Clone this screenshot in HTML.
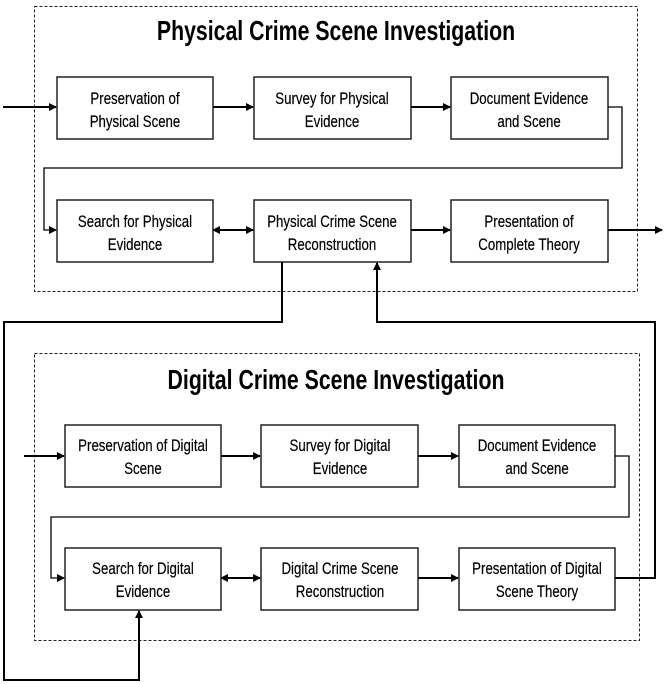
<!DOCTYPE html>
<html><head><meta charset="utf-8"><style>
html,body{margin:0;padding:0;background:#fff;}
svg{display:block;}
text{font-family:"Liberation Sans",Arial,sans-serif;fill:#000;}
</style></head><body>
<svg width="666" height="684" viewBox="0 0 666 684" xmlns="http://www.w3.org/2000/svg">
<defs>
<marker id="a" markerWidth="8" markerHeight="8" refX="7" refY="4" orient="auto" markerUnits="userSpaceOnUse">
<path d="M0,0 L8,4 L0,8 z" fill="#000"/></marker>
<marker id="s" markerWidth="8" markerHeight="8" refX="1" refY="4" orient="auto" markerUnits="userSpaceOnUse">
<path d="M8,0 L0,4 L8,8 z" fill="#000"/></marker>
</defs>
<g fill="none" stroke="#222" stroke-width="1" stroke-dasharray="3,2">
<rect x="34.5" y="6.5" width="603" height="285"/>
<rect x="34.5" y="353.5" width="605" height="287"/>
</g>
<text transform="translate(336,40) scale(0.76,1)" text-anchor="middle" font-size="28" font-weight="bold">Physical Crime Scene Investigation</text>
<text transform="translate(336,389) scale(0.76,1)" text-anchor="middle" font-size="28" font-weight="bold">Digital Crime Scene Investigation</text>
<g fill="#fff" stroke="#222" stroke-width="1.5">
<rect x="57" y="77" width="156" height="62"/>
<rect x="254" y="77" width="157" height="62"/>
<rect x="451" y="77" width="157" height="62"/>
<rect x="57" y="200" width="156" height="62"/>
<rect x="254" y="200" width="157" height="62"/>
<rect x="451" y="200" width="157" height="62"/>
<rect x="65" y="425" width="156" height="62"/>
<rect x="261" y="425" width="157" height="62"/>
<rect x="459" y="425" width="156" height="62"/>
<rect x="65" y="548" width="156" height="62"/>
<rect x="261" y="548" width="157" height="62"/>
<rect x="459" y="548" width="156" height="62"/>
</g>
<g font-size="17" text-anchor="middle" stroke="#000" stroke-width="0.2">
<text transform="translate(135,104) scale(0.78,1)">Preservation of</text>
<text transform="translate(135,127) scale(0.78,1)">Physical Scene</text>
<text transform="translate(332,104) scale(0.78,1)">Survey for Physical</text>
<text transform="translate(332,127) scale(0.78,1)">Evidence</text>
<text transform="translate(529,104) scale(0.78,1)">Document Evidence</text>
<text transform="translate(529,127) scale(0.78,1)">and Scene</text>
<text transform="translate(135,227) scale(0.78,1)">Search for Physical</text>
<text transform="translate(135,250) scale(0.78,1)">Evidence</text>
<text transform="translate(332,227) scale(0.78,1)">Physical Crime Scene</text>
<text transform="translate(332,250) scale(0.78,1)">Reconstruction</text>
<text transform="translate(529,227) scale(0.78,1)">Presentation of</text>
<text transform="translate(529,250) scale(0.78,1)">Complete Theory</text>
<text transform="translate(143,451) scale(0.78,1)">Preservation of Digital</text>
<text transform="translate(143,474) scale(0.78,1)">Scene</text>
<text transform="translate(340,451) scale(0.78,1)">Survey for Digital</text>
<text transform="translate(340,474) scale(0.78,1)">Evidence</text>
<text transform="translate(537,451) scale(0.78,1)">Document Evidence</text>
<text transform="translate(537,474) scale(0.78,1)">and Scene</text>
<text transform="translate(143,574) scale(0.78,1)">Search for Digital</text>
<text transform="translate(143,597) scale(0.78,1)">Evidence</text>
<text transform="translate(340,574) scale(0.78,1)">Digital Crime Scene</text>
<text transform="translate(340,597) scale(0.78,1)">Reconstruction</text>
<text transform="translate(537,574) scale(0.78,1)">Presentation of Digital</text>
<text transform="translate(537,597) scale(0.78,1)">Scene Theory</text>
</g>
<g fill="none" stroke="#000" stroke-width="2">
<line x1="3" y1="107" x2="56" y2="107" marker-end="url(#a)"/>
<line x1="213" y1="107" x2="253" y2="107" marker-end="url(#a)"/>
<line x1="411" y1="107" x2="450" y2="107" marker-end="url(#a)"/>
<line x1="213" y1="230" x2="253" y2="230" marker-start="url(#s)" marker-end="url(#a)"/>
<line x1="411" y1="230" x2="450" y2="230" marker-end="url(#a)"/>
<line x1="608" y1="230" x2="662" y2="230" marker-end="url(#a)"/>
<line x1="24" y1="456" x2="64" y2="456" marker-end="url(#a)"/>
<line x1="221" y1="456" x2="260" y2="456" marker-end="url(#a)"/>
<line x1="418" y1="456" x2="458" y2="456" marker-end="url(#a)"/>
<line x1="221" y1="578" x2="260" y2="578" marker-start="url(#s)" marker-end="url(#a)"/>
<line x1="418" y1="578" x2="458" y2="578" marker-end="url(#a)"/>
</g>
<g fill="none" stroke="#000" stroke-width="1.3">
<polyline points="608,107 622,107 622,168 44,168 44,230 56,230" marker-end="url(#a)"/>
<polyline points="615,456 629,456 629,517 51,517 51,578 64,578" marker-end="url(#a)"/>
</g>
<g fill="none" stroke="#000" stroke-width="2">
<polyline points="282,262 282,322 4,322 4,680 139,680 139,611" marker-end="url(#a)"/>
<polyline points="615,578 655,578 655,322 377,322 377,263" marker-end="url(#a)"/>
</g>
</svg>
</body></html>
